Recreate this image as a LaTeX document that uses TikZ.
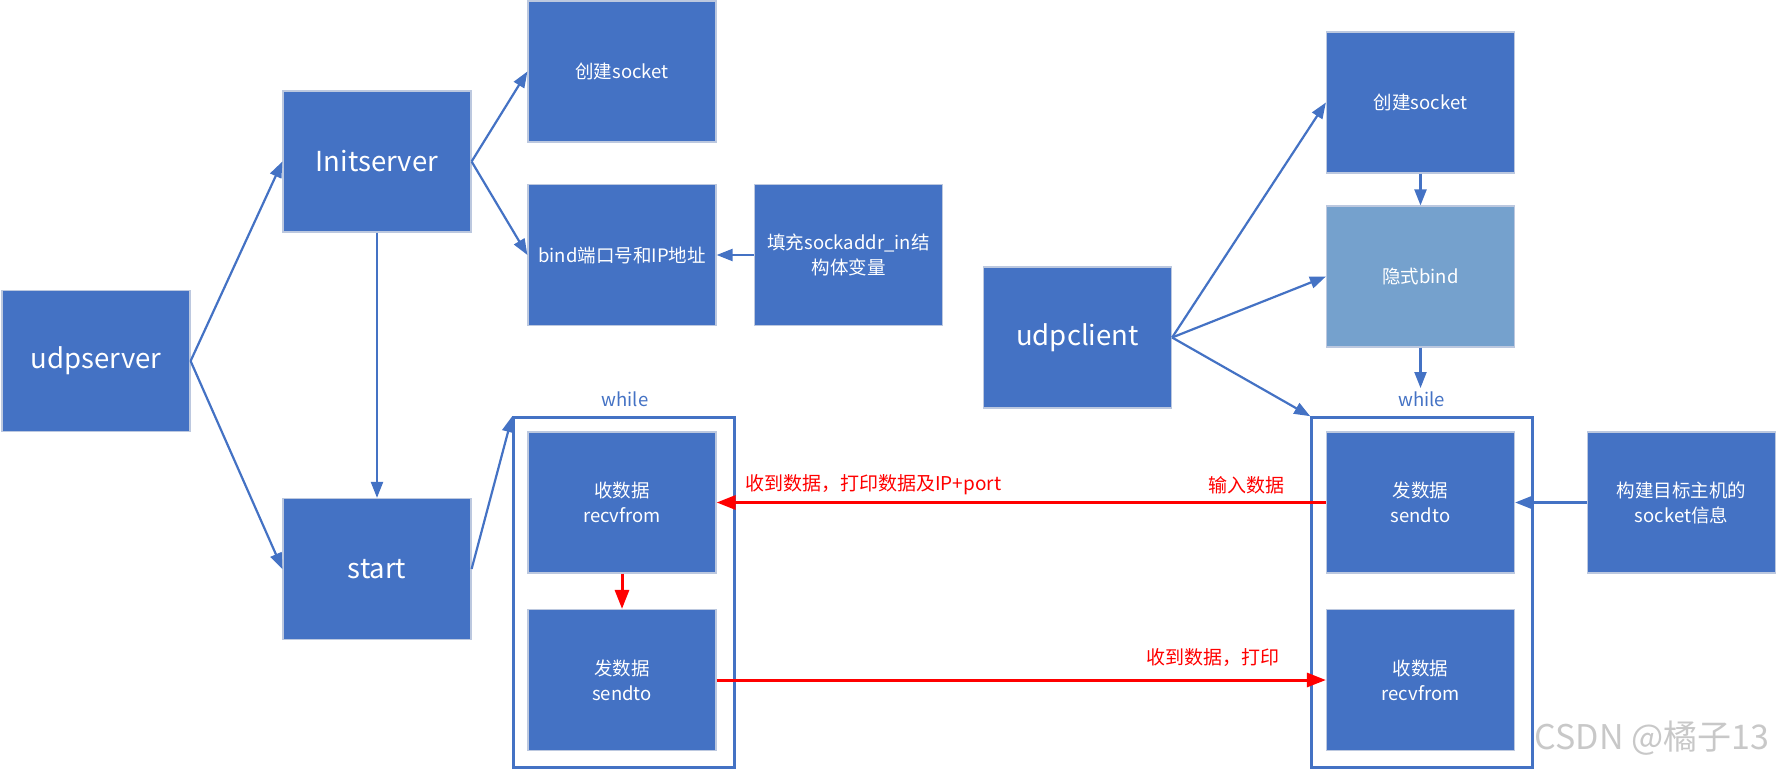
\documentclass[tikz,border=0pt]{standalone}
\usepackage{fontspec}
\setmainfont{Noto Sans CJK SC}
\usetikzlibrary{arrows.meta}
\definecolor{boxblue}{HTML}{4472C4}
\definecolor{lightblue}{HTML}{75A1CD}
\definecolor{boxedge}{HTML}{BCC8DF}
\definecolor{wmgray}{HTML}{C8C8C8}
\tikzset{
  box/.style={draw=boxedge, line width=1.2pt, fill=boxblue, minimum width=188pt, minimum height=141pt,
    inner sep=0pt, text=white, align=center, font=\fontsize{18.5}{25}\selectfont},
  bigbox/.style={box, font=\fontsize{27.5}{33}\selectfont},
  lightbox/.style={box, fill=lightblue},
  loopbox/.style={draw=boxblue, line width=2.6pt, fill=none, minimum width=221pt, minimum height=350pt, inner sep=0pt},
  looplbl/.style={text=boxblue, font=\fontsize{18.5}{22}\selectfont, inner sep=0pt},
  redlbl/.style={text=red, font=\fontsize{19}{22}\selectfont, inner sep=0pt},
  barrow/.style={draw=boxblue, line width=2.2pt, -{Triangle[length=16pt,width=12pt]}},
  rarrow/.style={draw=red, line width=3pt, -{Triangle[length=19pt,width=14pt]}}
}
\begin{document}
\begin{tikzpicture}[x=1pt, y=-1pt]
\useasboundingbox (0,0) rectangle (1777,769);
% server side
\node[bigbox] (udpserver) at (96,361) {udpserver};
\node[bigbox] (init) at (377,161.5) {Initserver};
\node[box] (ssock) at (622,71.5) {创建socket};
\node[box] (sbind) at (622,255) {bind端口号和IP地址};
\node[box] (sfill) at (848.5,255) {填充sockaddr\_in结\\构体变量};
\node[bigbox] (start) at (377,569) {start};
\node[loopbox] (swhile) at (624,592.5) {};
\node[looplbl] (swhilelbl) at (625,399) {while};
\node[box] (srecv) at (622,502.5) {收数据\\recvfrom};
\node[box] (ssend) at (622,680) {发数据\\sendto};
% client side
\node[bigbox] (udpclient) at (1077.5,337.5) {udpclient};
\node[box] (csock) at (1420.5,102.5) {创建socket};
\node[lightbox] (cbind) at (1420.5,276.5) {隐式bind};
\node[loopbox] (cwhile) at (1422,592.5) {};
\node[looplbl] (cwhilelbl) at (1421.7,399) {while};
\coordinate (cwtop) at (1420.5,388);
\node[box] (csend) at (1420.5,502.5) {发数据\\sendto};
\node[box] (crecv) at (1420.5,680) {收数据\\recvfrom};
\node[box] (cbuild) at (1681.5,502.5) {构建目标主机的\\socket信息};
% labels
\node[redlbl, anchor=west] (lblA) at (745,485) {收到数据，打印数据及IP+port};
\node[redlbl, anchor=east] (lblB) at (1285,485) {输入数据};
\node[redlbl, anchor=east] (lblC) at (1280,658) {收到数据，打印};
\node[text=wmgray, font=\fontsize{34}{38}\selectfont, inner sep=0pt] (wm) at (1652,738) {CSDN @橘子13};
% server connectors
\draw[barrow] (udpserver.east) -- (init.west);
\draw[barrow] (udpserver.east) -- (start.west);
\draw[barrow] (init.east) -- (ssock.west);
\draw[barrow] (init.east) -- (sbind.west);
\draw[barrow] (sfill.west) -- (sbind.east);
\draw[barrow] (init.south) -- (start.north);
\draw[barrow] (start.east) -- (swhile.north west);
\draw[rarrow] (srecv.south) -- (ssend.north);
% client connectors
\draw[barrow] (udpclient.east) -- (csock.west);
\draw[barrow] (udpclient.east) -- (cbind.west);
\draw[barrow] (udpclient.east) -- (cwhile.north west);
\draw[barrow] (csock.south) -- (cbind.north);
\draw[barrow] (cbind.south) -- (cwtop);
\draw[barrow] (cbuild.west) -- (csend.east);
% data flow
\draw[rarrow] (csend.west) -- (srecv.east);
\draw[rarrow] (ssend.east) -- (crecv.west);
\end{tikzpicture}
\end{document}
